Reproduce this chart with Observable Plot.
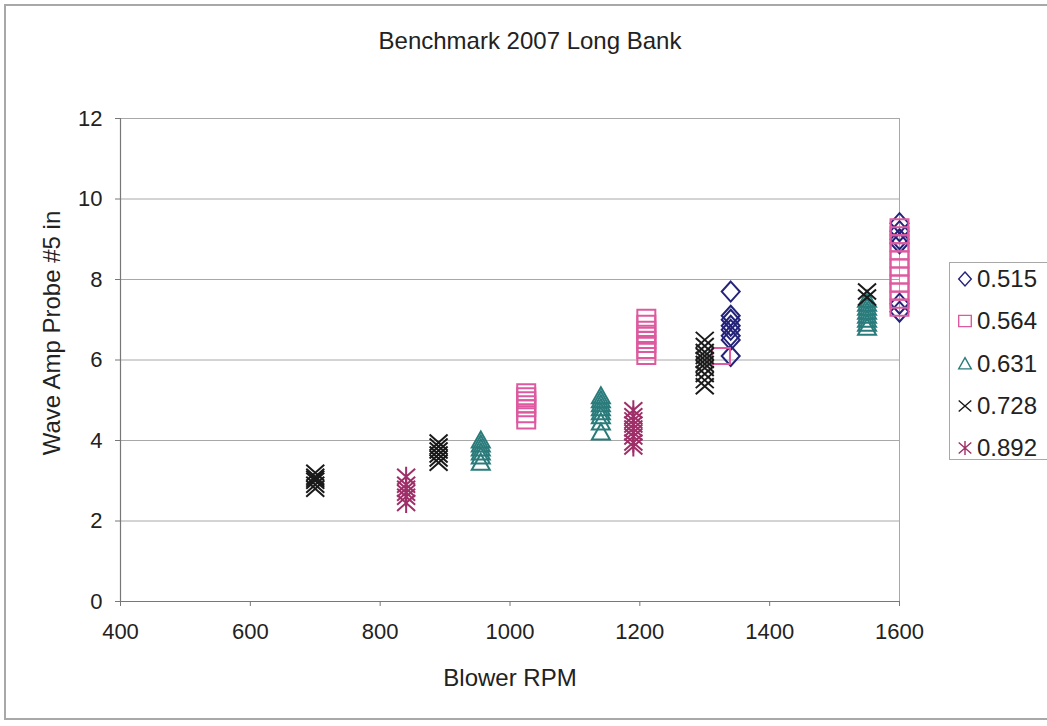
<!DOCTYPE html>
<html><head><meta charset="utf-8">
<script src="https://cdn.jsdelivr.net/npm/d3@7"></script>
<script src="https://cdn.jsdelivr.net/npm/@observablehq/plot@0.6"></script>
<style>
body{margin:0;background:#fff;overflow:hidden;font-family:"Liberation Sans",Arial,sans-serif;color:#222;}
#wrap{position:relative;width:1047px;height:726px;overflow:hidden;}
#border{position:absolute;left:4px;top:4px;width:1100px;height:716px;border:2px solid #a8a8a8;box-sizing:border-box;}
#chart{position:absolute;left:0;top:0;}
#title{position:absolute;left:0;width:1060px;top:29px;text-align:center;font-size:24px;line-height:24px;}
#xtitle{position:absolute;left:0;width:1020px;top:666px;text-align:center;font-size:24px;line-height:24px;}
#ytitle{position:absolute;left:52px;top:333px;width:0;height:0;}
#ytitle span{position:absolute;transform:translate(-50%,-50%) rotate(-90deg);white-space:nowrap;font-size:24px;line-height:24px;}
#legend{position:absolute;left:949px;top:262px;width:200px;height:198px;border:1px solid #a8a8a8;box-sizing:border-box;}
.row{position:absolute;left:0;height:24px;display:flex;align-items:center;font-size:24px;line-height:24px;}
.row svg{margin-left:5px;margin-right:2px;}
</style></head>
<body>
<div id="wrap">
  <div id="border"></div>
  <div id="chart"></div>
  <div id="title">Benchmark 2007 Long Bank</div>
  <div id="xtitle">Blower RPM</div>
  <div id="ytitle"><span>Wave Amp Probe #5 in</span></div>
  <div id="legend"></div>
</div>
<script>
// ---- data ----
const seriesNames = ["0.515", "0.564", "0.631", "0.728", "0.892"];
const seriesColors = ["#23237a", "#dd5aa0", "#2a7b7b", "#1a1a1a", "#9e2f68"];

const rpm515 = [1340,1340,1340,1340,1340,1340,1340,1340, 1600,1600,1600,1600,1600,1600];
const amp515 = [6.1,6.5,6.6,6.75,6.85,7.0,7.1,7.7, 7.2,7.4,8.9,9.0,9.2,9.4];

const rpm564 = [1025,1025,1025,1025,1025,1025,1025, 1210,1210,1210,1210,1210,1210,1210,1210, 1325,
                1600,1600,1600,1600,1600,1600,1600,1600,1600,1600,1600];
const amp564 = [4.5,4.65,4.8,4.9,5.0,5.1,5.2, 6.1,6.25,6.4,6.5,6.6,6.75,6.9,7.05, 6.1,
                7.3,7.5,7.7,7.9,8.1,8.3,8.5,8.7,8.9,9.1,9.3];

const rpm631 = [955,955,955,955,955,955, 1140,1140,1140,1140,1140,1140,1140,1140, 1550,1550,1550,1550,1550,1550,1550,1550];
const amp631 = [3.45,3.6,3.7,3.8,3.9,4.0, 4.2,4.45,4.6,4.7,4.8,4.9,5.0,5.1, 6.8,6.9,7.0,7.1,7.2,7.3,7.4,7.5];

const rpm728 = [700,700,700,700,700,700, 890,890,890,890,890,890, 1300,1300,1300,1300,1300,1300,1300,1300,1300,1300, 1550,1550];
const amp728 = [2.8,2.9,3.0,3.05,3.1,3.2, 3.45,3.55,3.65,3.75,3.85,3.95, 5.35,5.5,5.65,5.8,5.9,6.0,6.1,6.2,6.35,6.5, 7.55,7.7];

const rpm892 = [840,840,840,840,840,840, 1190,1190,1190,1190,1190,1190,1190,1190,1190];
const amp892 = [2.45,2.6,2.7,2.8,2.9,3.1, 3.85,3.95,4.1,4.2,4.3,4.4,4.5,4.6,4.75];

const xTicks = [400, 600, 800, 1000, 1200, 1400, 1600];
const yTicks = [0, 2, 4, 6, 8, 10, 12];

// ---- marker shapes (Excel-like hollow markers) ----
const symDiamond = {draw(c){c.moveTo(0,-10);c.lineTo(9,0);c.lineTo(0,10);c.lineTo(-9,0);c.closePath();}};
const symSquare  = {draw(c){c.moveTo(-9,-8);c.lineTo(9,-8);c.lineTo(9,8);c.lineTo(-9,8);c.closePath();}};
const symTriangle= {draw(c){c.moveTo(0,-9);c.lineTo(9,7);c.lineTo(-9,7);c.closePath();}};
const symTimes   = {draw(c){c.moveTo(-9,-8);c.lineTo(9,8);c.moveTo(-9,8);c.lineTo(9,-8);}};
const symStar    = {draw(c){c.moveTo(-9,-8);c.lineTo(9,8);c.moveTo(-9,8);c.lineTo(9,-8);c.moveTo(0,-10);c.lineTo(0,10);}};
const symbols = [symDiamond, symSquare, symTriangle, symTimes, symStar];

const rpmArrays = [rpm515, rpm564, rpm631, rpm728, rpm892];
const ampArrays = [amp515, amp564, amp631, amp728, amp892];
const tables = rpmArrays.map((r, i) => r.map((x, j) => ({rpm: x, amp: ampArrays[i][j], series: seriesNames[i]})));

const dotMarks = tables.map((t, i) => Plot.dot(t, {
  x: "rpm", y: "amp", symbol: symbols[i], stroke: seriesColors[i], fill: "none", strokeWidth: 2
}));

const chart = Plot.plot({
  width: 1047, height: 726,
  marginLeft: 120, marginRight: 148, marginTop: 118, marginBottom: 125,
  x: {domain: [400, 1600]},
  y: {domain: [0, 12]},
  style: {fontFamily: "'Liberation Sans', Arial, sans-serif", color: "#222", background: "transparent"},
  marks: [
    Plot.gridY(yTicks, {stroke: "#a8a8a8", strokeOpacity: 1}),
    Plot.frame({stroke: "#a8a8a8"}),
    Plot.axisY(yTicks, {tickSize: 5, tickPadding: 13, fontSize: 22, label: null, tickFormat: "d", stroke: "#777"}),
    Plot.axisX(xTicks, {tickSize: 5, tickPadding: 17, fontSize: 22, label: null, tickFormat: "d", stroke: "#777"}),
    Plot.ruleX([400], {stroke: "#777", strokeWidth: 1.2}),
    Plot.ruleY([0], {stroke: "#777", strokeWidth: 1.2}),
    ...dotMarks
  ]
});
document.getElementById("chart").appendChild(chart);

// ---- legend ----
const legend = document.getElementById("legend");
const rowCenters = [16, 58, 101, 143, 185];
seriesNames.forEach((name, i) => {
  const row = document.createElement("div");
  row.className = "row";
  row.style.top = (rowCenters[i] - 12) + "px";
  const path = d3.symbol(symbols[i])();
  row.innerHTML = `<svg width="20" height="20" viewBox="-10 -10 20 20"><path d="${path}" transform="scale(0.7)" fill="none" stroke="${seriesColors[i]}" stroke-width="2"/></svg><span>${name}</span>`;
  legend.appendChild(row);
});
</script>
</body></html>
